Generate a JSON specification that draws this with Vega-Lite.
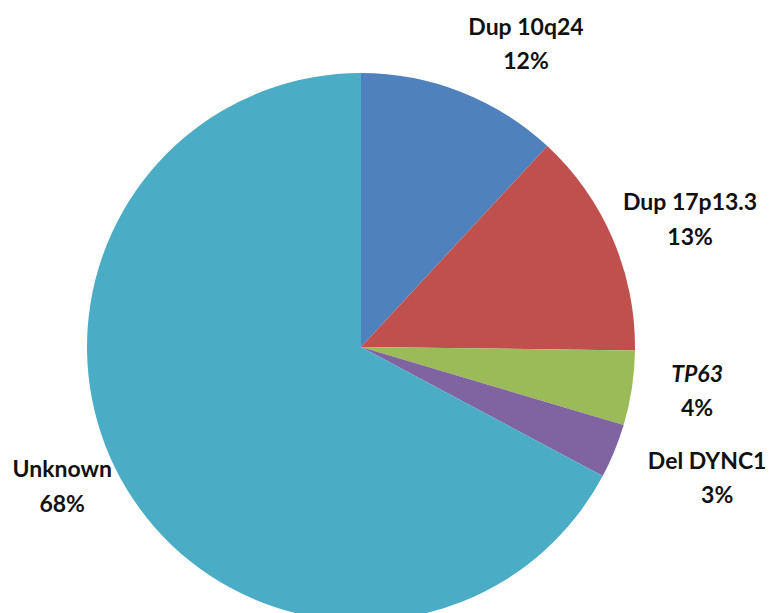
{
  "$schema": "https://vega.github.io/schema/vega-lite/v6.json",
  "width": 722,
  "height": 532,
  "autosize": {"type": "none"},
  "padding": {"left": 0, "top": 81, "right": 49, "bottom": 0},
  "background": "white",
  "config": {"view": {"stroke": null}, "text": {"font": "Lato", "fontWeight": "bold", "fontSize": 23, "color": "#111111"}},
  "data": {
    "values": [
      {"cat": "Dup 10q24", "value": 11.9, "pct": "12%", "ord": 1},
      {"cat": "Dup 17p13.3", "value": 13.3, "pct": "13%", "ord": 2},
      {"cat": "TP63", "value": 4.4, "pct": "4%", "ord": 3},
      {"cat": "Del DYNC1", "value": 3.2, "pct": "3%", "ord": 4},
      {"cat": "Unknown", "value": 67.2, "pct": "68%", "ord": 5}
    ]
  },
  "encoding": {
    "theta": {"field": "value", "type": "quantitative", "stack": true},
    "order": {"field": "ord", "type": "quantitative"}
  },
  "layer": [
    {
      "mark": {"type": "arc", "outerRadius": 274},
      "encoding": {
        "color": {
          "field": "cat",
          "type": "nominal",
          "sort": null,
          "scale": {
            "domain": ["Dup 10q24", "Dup 17p13.3", "TP63", "Del DYNC1", "Unknown"],
            "range": ["#4F81BD", "#C0504D", "#9BBB59", "#8064A2", "#4BACC6"]
          },
          "legend": null
        }
      }
    },
    {
      "mark": {"type": "text", "radius": 345, "dx": 39, "dy": 2},
      "encoding": {"text": {"condition": {"test": "datum.cat === 'Dup 10q24'", "field": "cat"}, "value": ""}}
    },
    {
      "mark": {"type": "text", "radius": 345, "dx": 39, "dy": 36},
      "encoding": {"text": {"condition": {"test": "datum.cat === 'Dup 10q24'", "field": "pct"}, "value": ""}}
    },
    {
      "mark": {"type": "text", "radius": 345, "dx": 12, "dy": -8},
      "encoding": {"text": {"condition": {"test": "datum.cat === 'Dup 17p13.3'", "field": "cat"}, "value": ""}}
    },
    {
      "mark": {"type": "text", "radius": 345, "dx": 12, "dy": 27},
      "encoding": {"text": {"condition": {"test": "datum.cat === 'Dup 17p13.3'", "field": "pct"}, "value": ""}}
    },
    {
      "mark": {"type": "text", "radius": 345, "dx": -5, "dy": -24, "fontStyle": "italic"},
      "encoding": {"text": {"condition": {"test": "datum.cat === 'TP63'", "field": "cat"}, "value": ""}}
    },
    {
      "mark": {"type": "text", "radius": 345, "dx": -5, "dy": 10},
      "encoding": {"text": {"condition": {"test": "datum.cat === 'TP63'", "field": "pct"}, "value": ""}}
    },
    {
      "mark": {"type": "text", "radius": 345, "dx": 27, "dy": -16},
      "encoding": {"text": {"condition": {"test": "datum.cat === 'Del DYNC1'", "field": "cat"}, "value": ""}}
    },
    {
      "mark": {"type": "text", "radius": 345, "dx": 37, "dy": 18},
      "encoding": {"text": {"condition": {"test": "datum.cat === 'Del DYNC1'", "field": "pct"}, "value": ""}}
    },
    {
      "mark": {"type": "text", "radius": 345, "dx": -3, "dy": -54},
      "encoding": {"text": {"condition": {"test": "datum.cat === 'Unknown'", "field": "cat"}, "value": ""}}
    },
    {
      "mark": {"type": "text", "radius": 345, "dx": -3, "dy": -19},
      "encoding": {"text": {"condition": {"test": "datum.cat === 'Unknown'", "field": "pct"}, "value": ""}}
    }
  ]
}
